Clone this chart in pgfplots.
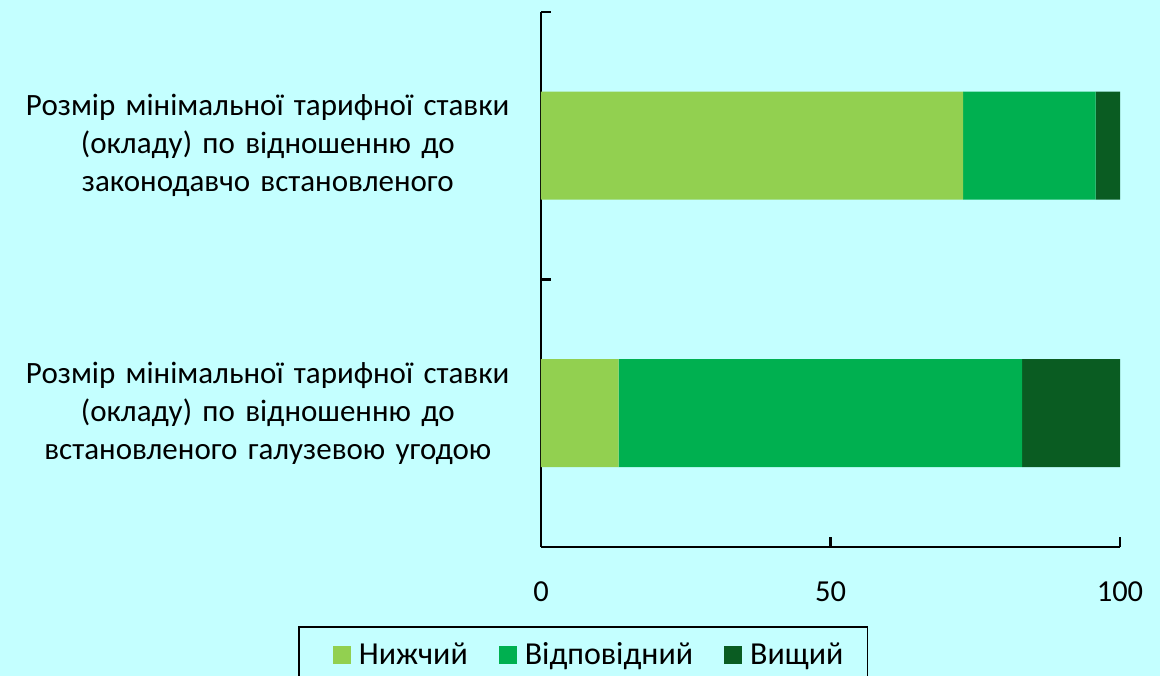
\documentclass[border=0pt]{standalone}
\usepackage{fontspec}
\setmainfont{Carlito}
\usepackage{pgfplots}
\pgfplotsset{compat=1.18}
\definecolor{bg}{HTML}{C4FFFF}
\definecolor{cLow}{HTML}{92D050}
\definecolor{cMid}{HTML}{00B050}
\definecolor{cHigh}{HTML}{0A5C22}
\begin{document}
\begin{tikzpicture}[x=1pt,y=1pt]
\useasboundingbox (0,0) rectangle (1160,676);
\fill[bg] (0,0) rectangle (1160,676);
\begin{axis}[
  at={(541pt,129pt)}, anchor=south west,
  scale only axis, width=579pt, height=535pt,
  xbar stacked, bar width=108pt,
  xmin=0, xmax=100, ymin=-0.5, ymax=1.5,
  axis x line*=bottom, axis y line*=left,
  axis line style={line width=2.8pt, black, -},
  xtick={0,50,100},
  ytick={-0.5,0.5,1.5},
  yticklabels={},
  extra y ticks={0,1},
  extra y tick labels={{Розмір мінімальної тарифної ставки\\(окладу) по відношенню до\\встановленого галузевою угодою},
               {Розмір мінімальної тарифної ставки\\(окладу) по відношенню до\\законодавчо встановленого}},
  extra y tick style={major tick length=0pt, tick style={draw=none},
    yticklabel style={font=\fontsize{31}{38}\selectfont, align=center, text width=520pt, inner sep=0pt, xshift=-13pt}},
  tick align=inside,
  major tick length=10pt,
  tick style={line width=2.8pt, black},
  /pgf/number format/assume math mode=true,
  xticklabel style={font=\fontsize{30.5}{36}\selectfont, anchor=center, yshift=-45pt, inner sep=0pt},
  legend columns=3,
  legend style={
    at={(-0.4197,-0.1477)}, anchor=north west,
    draw=black, line width=1.8pt, fill=none,
    font=\fontsize{32}{36}\selectfont,
    inner xsep=22pt, inner ysep=14pt,
    /tikz/every odd column/.append style={column sep=6pt},
    /tikz/every even column/.append style={column sep=17pt},
    cells={anchor=west},
  },
  legend image code/.code={\path (0pt,0pt); \fill[#1, draw=none] (12pt,-9pt) rectangle (30pt,9pt);},
  clip=false,
]
\addplot[fill=cLow, draw=none] coordinates {(13.4,0) (72.9,1)};
\addplot[fill=cMid, draw=none] coordinates {(69.7,0) (22.9,1)};
\addplot[fill=cHigh, draw=none] coordinates {(16.9,0) (4.2,1)};
\legend{Нижчий, Відповідний, Вищий}
\end{axis}
\end{tikzpicture}
\end{document}
